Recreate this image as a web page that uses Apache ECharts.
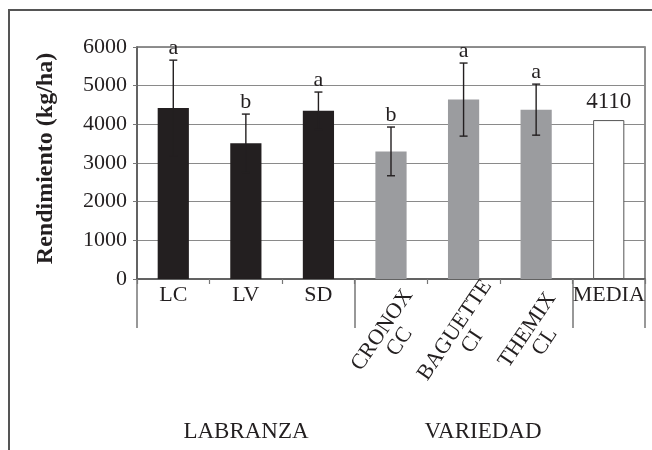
<!DOCTYPE html>
<html>
<head>
<meta charset="utf-8">
<script src="https://cdn.jsdelivr.net/npm/echarts@6/dist/echarts.min.js"></script>
<style>
  html, body { margin: 0; padding: 0; background: #ffffff; }
  #chart { width: 652px; height: 450px; }
</style>
</head>
<body>
<div id="chart"></div>
<script>
// Yield by tillage system and by wheat variety, with the overall mean
const categories = ['LC', 'LV', 'SD', 'CRONOX\nCC', 'BAGUETTE\nCI', 'THEMIX\nCL', 'MEDIA'];
const groupOf    = [0, 0, 0, 1, 1, 1, 2];          // 0 = labranza, 1 = variedad, 2 = media
const means      = [4420, 3510, 4350, 3300, 4640, 4380, 4110];
const errors     = [1240, 755, 485, 630, 945, 660, null];
const letters    = ['a', 'b', 'a', 'b', 'a', 'a', null];
const groupNames = ['LABRANZA', 'VARIEDAD'];
const yMin = 0, yMax = 6000, yStep = 1000;
const yTitle = 'Rendimiento (kg/ha)';

const FONT = '"Liberation Serif", "Times New Roman", serif';
const INK = '#231f20';
const barStyles = [
  { color: INK },
  { color: '#9b9c9f' },
  { color: '#ffffff', borderColor: '#555555', borderWidth: 1 }
];

const barData = means.map((v, i) => {
  const item = { value: v, itemStyle: barStyles[groupOf[i]] };
  if (groupOf[i] === 2) {
    item.label = {
      show: true, position: 'top', distance: 7,
      fontFamily: FONT, fontSize: 23, color: INK,
      formatter: String(v)
    };
  }
  return item;
});

const errData = [];
means.forEach((v, i) => { if (errors[i] != null) errData.push([i, v, errors[i]]); });

const chart = echarts.init(document.getElementById('chart'), null, { renderer: 'canvas' });

chart.setOption({
  animation: false,
  backgroundColor: '#ffffff',
  textStyle: { fontFamily: FONT },
  grid: {
    left: 137, right: 7, top: 47, bottom: 171,
    show: true, borderColor: '#6b6b6b', borderWidth: 1.5
  },
  xAxis: [
    {
      type: 'category', data: categories, position: 'bottom',
      axisLine: { show: true, lineStyle: { color: '#555555', width: 1.5 } },
      axisTick: { show: true, length: 5, lineStyle: { color: '#777777', width: 1.2 } },
      axisLabel: {
        interval: 0, margin: 5, fontFamily: FONT, fontSize: 22, color: INK,
        formatter: (v, i) => groupOf[i] === 1 ? '' : v
      },
      splitLine: { show: false }
    },
    {
      type: 'category', data: categories, position: 'bottom',
      axisLine: { show: false },
      axisTick: {
        show: true, length: 49,
        interval: (i) => i === 0 || i === 3 || i === 6,
        lineStyle: { color: '#777777', width: 1.5 }
      },
      axisLabel: {
        interval: 0, rotate: 56, align: 'center', verticalAlign: 'middle',
        margin: 57, fontFamily: FONT, fontSize: 22, lineHeight: 21, color: INK,
        formatter: (v, i) => groupOf[i] === 1 ? v : ''
      },
      splitLine: { show: false }
    }
  ],
  yAxis: {
    type: 'value', min: yMin, max: yMax, interval: yStep,
    name: yTitle, nameLocation: 'middle', nameGap: 79,
    nameTextStyle: {
      fontFamily: FONT, fontSize: 24, fontWeight: 'bold', color: INK,
      padding: [0, 0, 0, 9]
    },
    axisLine: { show: true, lineStyle: { color: '#555555', width: 1.5 } },
    axisTick: { show: true, length: 4, lineStyle: { color: '#777777' } },
    axisLabel: {
      margin: 10, fontFamily: FONT, fontSize: 22, color: INK,
      formatter: (v) => String(v)
    },
    splitLine: { show: true, lineStyle: { color: '#8a8a8a', width: 1 } }
  },
  series: [
    {
      type: 'bar', xAxisIndex: 0, data: barData, barWidth: '43%'
    },
    {
      type: 'custom', xAxisIndex: 0, data: errData, z: 5,
      renderItem: (params, api) => {
        const idx = api.value(0), m = api.value(1), e = api.value(2);
        const top = api.coord([idx, m + e]);
        const bot = api.coord([idx, m - e]);
        const cap = 4;
        const ls = { stroke: INK, lineWidth: 1.4 };
        return {
          type: 'group',
          children: [
            { type: 'line', shape: { x1: top[0], y1: top[1], x2: bot[0], y2: bot[1] }, style: ls },
            { type: 'line', shape: { x1: top[0] - cap, y1: top[1], x2: top[0] + cap, y2: top[1] }, style: ls },
            { type: 'line', shape: { x1: bot[0] - cap, y1: bot[1], x2: bot[0] + cap, y2: bot[1] }, style: ls },
            {
              type: 'text', x: top[0], y: top[1] - 1,
              style: {
                text: letters[idx], fill: INK, font: '22px ' + FONT,
                textAlign: 'center', textVerticalAlign: 'bottom'
              }
            }
          ]
        };
      }
    }
  ],
  graphic: [
    {
      type: 'rect', silent: true, z: 100,
      shape: { x: 9, y: 10, width: 700, height: 500 },
      style: { fill: 'none', stroke: '#555555', lineWidth: 2 }
    },
    {
      type: 'text', x: 246, y: 432,
      style: { text: groupNames[0], font: '23px ' + FONT, fill: INK, textAlign: 'center', textVerticalAlign: 'middle' }
    },
    {
      type: 'text', x: 483, y: 432,
      style: { text: groupNames[1], font: '23px ' + FONT, fill: INK, textAlign: 'center', textVerticalAlign: 'middle' }
    }
  ]
});
</script>
</body>
</html>
